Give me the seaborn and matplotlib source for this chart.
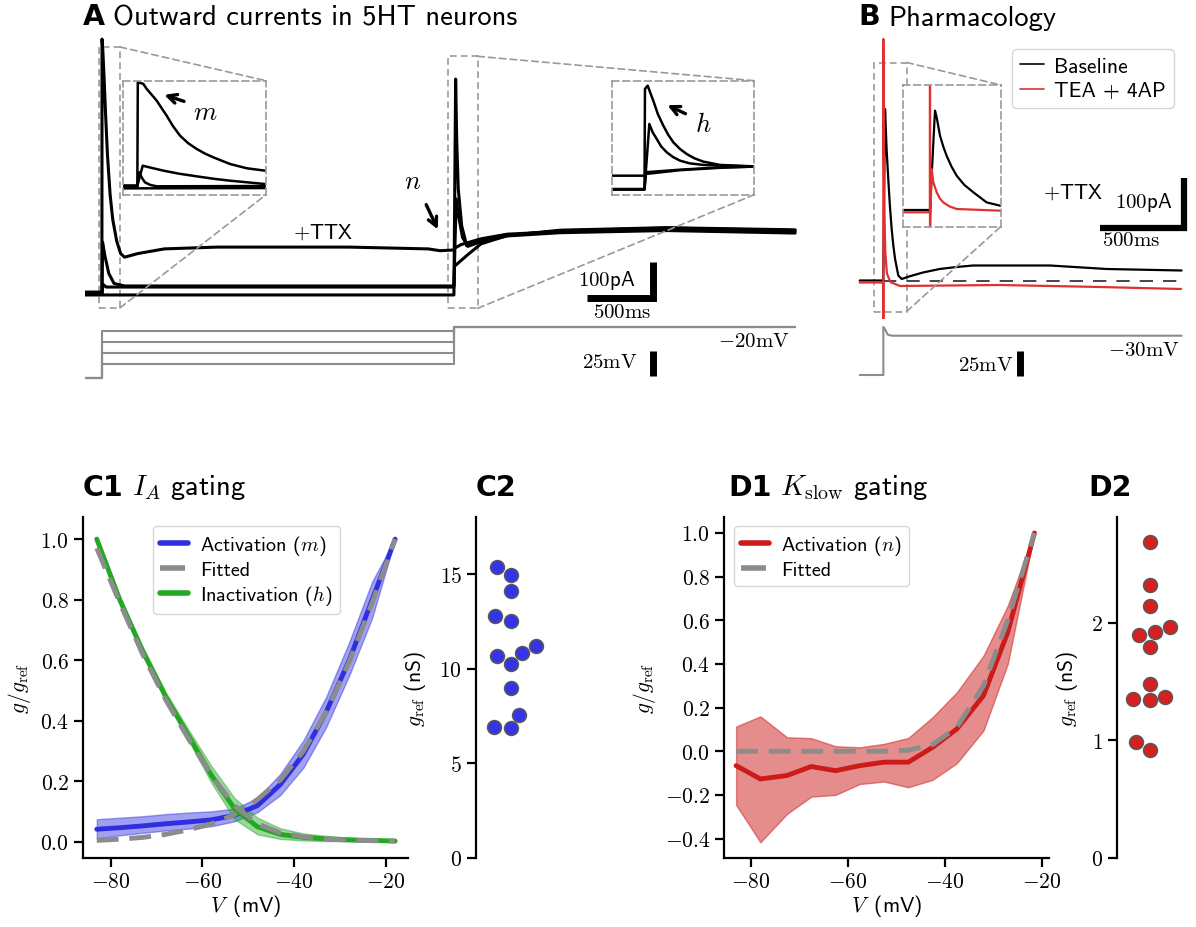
import numpy as np
import pandas as pd
import matplotlib
matplotlib.use("Agg")
import matplotlib.pyplot as plt
import seaborn as sns
from matplotlib.patches import Rectangle, ConnectionPatch
from matplotlib.text import Annotation
from matplotlib.ticker import FuncFormatter
from matplotlib.lines import Line2D

# ---------------- data ----------------
# Panel A: voltage protocol (mV) and current traces (ms, pA)
A_step_t = [0, 130, 130, 2795, 2795, 5380]
A_hold = -71.0
A_cond_levels = [-23.4, -34.4, -45.4, -56.7]
A_test = -20.0

A_t1 = [0, 128, 129, 135, 145, 155, 170, 190, 210, 240, 270, 300, 400, 600, 1000, 2000, 2600, 2690, 2795, 2800, 2850, 3000, 3200, 3600, 4400, 5380]
A_i1 = [8, 8, 711, 680, 600, 510, 390, 280, 210, 150, 115, 105, 115, 128, 133, 133, 128, 123, 125, 130, 140, 156, 169, 176, 183, 176]
A_t2 = [0, 129, 133, 150, 180, 220, 300, 2795, 2800, 2900, 3000, 3200, 3600, 4400, 5380]
A_i2 = [6, 6, 147, 110, 60, 32, 25, 25, 80, 112, 142, 165, 180, 187, 181]
A_t3 = [0, 129, 135, 160, 2795, 2812, 2830, 2860, 2900, 3000, 3200, 3600, 4400, 5380]
A_i3 = [3, 3, 30, 22, 22, 267, 220, 160, 135, 148, 164, 173, 179, 172]
A_t4 = [0, 2795, 2808, 2816, 2828, 2854, 2892, 3000, 3200, 3600, 4400, 5380]
A_i4 = [0, 0, 600, 433, 294, 192, 137, 152, 166, 178, 186, 179]

# inset m (time from step, ms; pA)
M_t = [[-31, -2, -1, 10.5, 17.7, 28, 38.7, 49, 59.7, 73, 87.7, 105, 122.8, 140, 157.7, 192.8, 227.9, 266],
       [-31, -2, 9.3, 30, 52.6, 85, 122.8, 160, 192.8, 266],
       [-31, -2, 2.1, 8, 14, 25, 38.7, 266],
       [-31, 266]]
M_i = [[37, 37, 690, 680, 648, 612, 574, 527, 479, 413, 353, 305, 269, 240, 216, 174, 147, 132],
       [37, 37, 163, 148, 132, 113, 96, 80, 68.5, 47.6],
       [30, 30, 122, 85, 58, 42, 33, 35],
       [20, 22]]
# inset h
H_t = [[-69, 0, 1, 6.7, 12, 18.5, 28, 39.6, 50, 60.6, 75, 88.8, 105, 123.7, 158.9, 231],
       [-69, 0, 10.2, 17, 25.7, 35, 46.7, 60, 74.7, 95, 123.7, 231],
       [-69, 0, 3, 75, 160, 231],
       [-69, 0, 3, 75, 160, 231]]
H_i = [[16, 16, 648, 669, 625, 574, 490, 416, 358, 311, 268, 237, 210, 189, 168, 159],
       [12, 12, 427, 375, 332, 285, 248, 218, 195, 178, 168, 157],
       [100, 100, 122, 138, 153, 157],
       [14, 14, 111, 135, 150, 158]]

# Panel B
B_tb = [10, 149, 150, 159, 168, 178, 188, 198, 208, 218, 237, 257, 300, 382, 480, 580, 676, 1129, 1462, 1903]
B_ib = [1, 1, 60, 344, 265, 204, 148, 104, 70, 44, 11, 4, 9, 17, 24, 28, 31, 31, 24, 21]
B_tr = [10, 149, 149, 149, 151, 155, 160, 170, 190, 247, 835, 1423, 1900]
B_ir = [-3, -3, -76, 484, 300, 150, 60, 15, -2, -10, -8, -12, -16]
B_tv = [10, 149, 149, 156, 175, 200, 1903]
B_v = [-69.3, -69.3, -21.3, -22.5, -29, -30, -30]
Bin_tb = [-56, 0, 3, 10.2, 13.7, 20.4, 27, 34, 44, 54.5, 70, 88.4, 115.7, 144]
Bin_ib = [29.5, 29.5, 120, 324, 304, 250, 218, 190, 158, 131, 104, 82, 52, 42]
Bin_tr = [-56, 0, 0, 0, 3.4, 6.8, 13.7, 20, 27.2, 40, 54.5, 144]
Bin_ir = [22.7, 22.7, 450, -40, 151, 111.6, 82, 64, 52, 40, 32.5, 27.4]

# Panel C1
V_A = [-83, -78, -73, -68, -63, -58, -53, -48, -43, -38, -33, -28, -23, -18]
m_mean = [0.042, 0.047, 0.053, 0.060, 0.066, 0.073, 0.088, 0.12, 0.19, 0.29, 0.43, 0.60, 0.80, 1.0]
m_lo = [0.012, 0.022, 0.030, 0.038, 0.044, 0.052, 0.068, 0.098, 0.155, 0.245, 0.38, 0.55, 0.74, 1.0]
m_hi = [0.075, 0.080, 0.085, 0.092, 0.097, 0.101, 0.110, 0.145, 0.225, 0.335, 0.48, 0.66, 0.86, 1.0]
m_fit = [0.005, 0.009, 0.015, 0.025, 0.04, 0.06, 0.09, 0.14, 0.205, 0.30, 0.43, 0.595, 0.79, 1.0]
h_mean = [1.0, 0.80, 0.63, 0.48, 0.35, 0.22, 0.11, 0.05, 0.025, 0.015, 0.01, 0.007, 0.005, 0.003]
h_lo = [1.0, 0.79, 0.62, 0.47, 0.335, 0.195, 0.075, 0.025, 0.01, 0.005, 0.003, 0.002, 0.001, 0.0]
h_hi = [1.0, 0.81, 0.645, 0.495, 0.37, 0.25, 0.145, 0.08, 0.045, 0.028, 0.02, 0.014, 0.01, 0.006]
h_fit = [0.97, 0.79, 0.62, 0.47, 0.34, 0.22, 0.12, 0.06, 0.03, 0.017, 0.01, 0.006, 0.004, 0.003]

# Panel C2
gref_A = [15.35, 14.94, 14.11, 12.79, 12.50, 11.19, 10.68, 10.84, 10.26, 8.96, 7.55, 6.93, 6.86]

# Panel D1
V_K = [-83, -78, -72.5, -67.5, -62.5, -57.5, -52.5, -47.5, -42.5, -37.5, -32, -27, -21.5]
n_mean = [-0.066, -0.127, -0.111, -0.07, -0.089, -0.066, -0.05, -0.05, 0.018, 0.102, 0.255, 0.545, 1.0]
n_hi = [0.113, 0.16, 0.064, 0.06, 0.023, 0.018, 0.034, 0.061, 0.156, 0.27, 0.438, 0.667, 1.0]
n_lo = [-0.246, -0.417, -0.287, -0.208, -0.2, -0.15, -0.139, -0.165, -0.131, -0.055, 0.095, 0.40, 1.0]
n_fit = [0, 0, 0, 0, 0, 0, 0, 0.005, 0.03, 0.11, 0.30, 0.60, 1.0]

# Panel D2
gref_K = [2.687, 2.32, 2.144, 1.965, 1.895, 1.923, 1.795, 1.478, 1.351, 1.34, 1.368, 0.983, 0.915]

# ---------------- style ----------------
sns.set_theme(style="ticks")
plt.rcParams.update({
    "font.family": ["cmss10", "DejaVu Sans"],
    "mathtext.fontset": "cm",
    "axes.unicode_minus": True,
    "axes.linewidth": 1.6,
    "axes.edgecolor": "black",
    "xtick.color": "black", "ytick.color": "black",
    "text.color": "black", "axes.labelcolor": "black",
    "xtick.major.width": 1.6, "ytick.major.width": 1.6,
    "xtick.major.size": 6.5, "ytick.major.size": 6.5,
    "xtick.labelsize": 15.5, "ytick.labelsize": 15.5,
    "axes.labelsize": 15.5, "legend.fontsize": 14.5,
})

BLUE = "#2f2fe0"
GREEN = "#22a822"
RED = "#cc1b1b"
GRAY = "0.55"
DASHC = "0.6"

W, H = 1196, 928
fig = plt.figure(figsize=(W / 100, H / 100), dpi=100)


def px_axes(l, t, r, b):
    return fig.add_axes([l / W, 1 - b / H, (r - l) / W, (b - t) / H])


def mathfmt(fmt):
    return FuncFormatter(lambda v, p: "$" + (fmt % (v + 0.0)) + "$")


def dashed_box(ax):
    ax.set_xticks([])
    ax.set_yticks([])
    for s in ax.spines.values():
        s.set_visible(True)
        s.set_linestyle((0, (4, 2.5)))
        s.set_edgecolor(DASHC)
        s.set_linewidth(1.2)
    ax.patch.set_alpha(0)


def zoom_marks(ax, inset, t0, t1, i0, i1):
    ax.add_patch(Rectangle((t0, i0), t1 - t0, i1 - i0, fill=False, ls=(0, (4, 2.5)),
                           ec=DASHC, lw=1.2, clip_on=False, zorder=1))
    for yd, yf in ((i1, 1), (i0, 0)):
        cp = ConnectionPatch(xyA=(t1, yd), coordsA=ax.transData, xyB=(1, yf),
                             coordsB=inset.transAxes, ls=(0, (4, 2.5)), color=DASHC, lw=1.2)
        fig.add_artist(cp)


def panel_title(x, y, label, rest=None, size=20, rsize=20):
    t = fig.text(x / W, 1 - y / H, label, fontsize=size, fontweight="bold",
                 family="DejaVu Sans", ha="left", va="baseline")
    if rest:
        fig.add_artist(Annotation(rest, xy=(1, 0), xycoords=t, xytext=(6, 0),
                                  textcoords="offset points", ha="left", va="bottom",
                                  fontsize=rsize))


arrow_kw = dict(arrowstyle="->", lw=2.4, color="black", mutation_scale=16)

# ---------------- Panel A ----------------
axA = px_axes(85, 30, 800, 310)
axA.axis("off")
axA.set_xlim(0, 5417)
axA.set_ylim(-39, 739)
for t, i in ((A_t4, A_i4), (A_t3, A_i3), (A_t2, A_i2), (A_t1, A_i1)):
    axA.plot(t, i, color="black", lw=2.2, solid_joinstyle="round")
# scale bars
axA.plot([3800, 4300, 4300], [-8, -8, 92], color="black", lw=5, solid_capstyle="butt",
         solid_joinstyle="miter", clip_on=False)
axA.text(4167, 42, r"$100$pA", ha="right", va="center", fontsize=15)
axA.text(4068, -46, r"$500\mathrm{ms}$", ha="center", va="center", fontsize=15)
axA.text(1803, 176, r"$+$TTX", ha="center", va="center", fontsize=15)
axA.text(2485, 314, r"$n$", ha="center", va="center", fontsize=19)
axA.annotate("", xy=(2682, 175), xytext=(2576, 258), arrowprops=arrow_kw)

axAv = px_axes(85, 315, 800, 390)
axAv.axis("off")
axAv.set_xlim(0, 5417)
axAv.set_ylim(-81.7, -6.7)
for lev in A_cond_levels:
    axAv.plot(A_step_t, [A_hold, A_hold, lev, lev, A_test, A_test], color=GRAY, lw=1.5)
axAv.text(5341, -33.4, r"$-20\mathrm{mV}$", ha="right", va="center", fontsize=15)
axAv.text(4182, -54.7, r"$25\mathrm{mV}$", ha="right", va="center", fontsize=15)
axAv.plot([4301, 4301], [-43.7, -68.7], color="black", lw=5, solid_capstyle="butt")

# inset m
axM = px_axes(123.3, 81.7, 266, 195.7)
axM.set_xlim(-31.5, 268.5)
axM.set_ylim(-20, 700)
for t, i in zip(M_t, M_i):
    axM.plot(t, i, color="black", lw=1.8)
dashed_box(axM)
axM.text(140, 496, r"$m$", ha="center", va="center", fontsize=19)
axM.annotate("", xy=(49, 616), xytext=(101.8, 564), arrowprops=arrow_kw)
zoom_marks(axA, axM, 106, 265, -36, 689)

# inset h
axHh = px_axes(611.7, 81.7, 754.3, 195.7)
axHh.set_xlim(-69, 231)
axHh.set_ylim(-20, 700)
for t, i in zip(H_t, H_i):
    axHh.plot(t, i, color="black", lw=1.8)
dashed_box(axHh)
axHh.text(123, 427, r"$h$", ha="center", va="center", fontsize=19)
axHh.annotate("", xy=(43, 553), xytext=(91.5, 484), arrowprops=arrow_kw)
zoom_marks(axA, axHh, 2748, 2975, -37, 663)

# ---------------- Panel B ----------------
axB = px_axes(858, 30, 1185, 320)
axB.axis("off")
axB.set_xlim(0, 1923)
axB.set_ylim(-76, 504)
axB.plot([149, 1903], [0, 0], color="0.15", lw=1.2, dashes=(8, 6))
axB.plot(B_tb, B_ib, color="black", lw=1.6)
axB.plot(B_tr, B_ir, color="#e03030", lw=1.6)
axB.plot([1423, 1915, 1915], [106, 106, 206], color="black", lw=4.5, solid_capstyle="butt",
         solid_joinstyle="miter", clip_on=False)
axB.text(1846, 158, r"$100$pA", ha="right", va="center", fontsize=15)
axB.text(1605, 82, r"$500\mathrm{ms}$", ha="center", va="center", fontsize=15)
axB.text(1264, 178, r"$+$TTX", ha="center", va="center", fontsize=15)
legB = axB.legend(handles=[Line2D([], [], color="black", lw=1.2),
                           Line2D([], [], color="#e03030", lw=1.2)],
                  labels=["Baseline", "TEA + 4AP"], loc="upper right",
                  bbox_to_anchor=(0.965, 0.93), borderaxespad=0, fontsize=15.5,
                  handlelength=1.1, handletextpad=0.5, labelspacing=0.25,
                  borderpad=0.35, frameon=True, fancybox=True)
legB.get_frame().set_edgecolor("0.8")

axBv = px_axes(858, 320, 1185, 385)
axBv.axis("off")
axBv.set_xlim(0, 1923)
axBv.set_ylim(-78.3, -13.3)
axBv.plot(B_tv, B_v, color=GRAY, lw=1.5)
axBv.text(1893, -43.3, r"$-30\mathrm{mV}$", ha="right", va="center", fontsize=15)
axBv.text(911, -59.3, r"$25\mathrm{mV}$", ha="right", va="center", fontsize=15)
axBv.plot([953, 953], [-45.3, -70.3], color="black", lw=5, solid_capstyle="butt")

axBi = px_axes(902.7, 86, 1000.7, 227.7)
axBi.set_xlim(-55.7, 144.3)
axBi.set_ylim(-20, 400)
axBi.plot(Bin_tb, Bin_ib, color="black", lw=1.6)
axBi.plot(Bin_tr, Bin_ir, color="#e03030", lw=1.6)
dashed_box(axBi)
axBi.patch.set_alpha(1)
axBi.patch.set_facecolor("white")
zoom_marks(axB, axBi, 96, 286, -61, 437)

# ---------------- Panel C1 ----------------
leg_kw = dict(loc="upper left", borderaxespad=0, handlelength=1.4, handletextpad=0.6,
              labelspacing=0.2, borderpad=0.35, frameon=True, fancybox=True)

axC1 = px_axes(83, 518, 408, 859)
axC1.fill_between(V_A, m_lo, m_hi, color=BLUE, alpha=0.45, lw=1)
sns.lineplot(x=V_A, y=m_mean, ax=axC1, color=BLUE, lw=3.5)
axC1.plot(V_A, m_fit, color="0.55", lw=3.5, dashes=(4.5, 2.2))
axC1.fill_between(V_A, h_lo, h_hi, color=GREEN, alpha=0.45, lw=1)
sns.lineplot(x=V_A, y=h_mean, ax=axC1, color=GREEN, lw=3.5)
axC1.plot(V_A, h_fit, color="0.55", lw=3.5, dashes=(4.5, 2.2))
axC1.set_xlim(-86, -15.2)
axC1.set_ylim(-0.053, 1.073)
axC1.set_xticks([-80, -60, -40, -20])
axC1.set_yticks([0, 0.2, 0.4, 0.6, 0.8, 1.0])
axC1.xaxis.set_major_formatter(mathfmt("%d"))
axC1.yaxis.set_major_formatter(mathfmt("%.1f"))
axC1.set_xlabel(r"$V\,$ (mV)", labelpad=1)
axC1.set_ylabel(r"$g/g_\mathrm{ref}$", labelpad=5)
legC = axC1.legend(handles=[Line2D([], [], color=BLUE, lw=4),
                            Line2D([], [], color="0.55", lw=4, dashes=(4.5, 2.2)),
                            Line2D([], [], color=GREEN, lw=4)],
                   labels=[r"Activation ($m$)", "Fitted", r"Inactivation ($h$)"],
                   bbox_to_anchor=(0.215, 0.975), **leg_kw)
legC.get_frame().set_edgecolor("0.8")
sns.despine(ax=axC1)

# ---------------- Panel C2 ----------------
axC2 = px_axes(476, 518, 545, 859)
sns.swarmplot(y=gref_A, ax=axC2, color="#3434e6", size=10, edgecolor="0.35", linewidth=1.1)
axC2.set_xlim(-0.5, 0.5)
axC2.set_ylim(0, 18)
axC2.set_yticks([0, 5, 10, 15])
axC2.yaxis.set_major_formatter(mathfmt("%d"))
axC2.set_xticks([])
axC2.set_ylabel(r"$g_\mathrm{ref}$ (nS)", labelpad=8)
sns.despine(ax=axC2, bottom=True)

# ---------------- Panel D1 ----------------
axD1 = px_axes(724, 518, 1049, 859)
axD1.fill_between(V_K, n_lo, n_hi, color=RED, alpha=0.5, lw=1)
sns.lineplot(x=V_K, y=n_mean, ax=axD1, color=RED, lw=3.5)
axD1.plot(V_K, n_fit, color="0.55", lw=3.5, dashes=(4.5, 2.2))
axD1.set_xlim(-85.5, -18.5)
axD1.set_ylim(-0.489, 1.073)
axD1.set_xticks([-80, -60, -40, -20])
axD1.set_yticks([-0.4, -0.2, 0, 0.2, 0.4, 0.6, 0.8, 1.0])
axD1.xaxis.set_major_formatter(mathfmt("%d"))
axD1.yaxis.set_major_formatter(mathfmt("%.1f"))
axD1.set_xlabel(r"$V\,$ (mV)", labelpad=1)
axD1.set_ylabel(r"$g/g_\mathrm{ref}$", labelpad=5)
legD = axD1.legend(handles=[Line2D([], [], color=RED, lw=4),
                            Line2D([], [], color="0.55", lw=4, dashes=(4.5, 2.2))],
                   labels=[r"Activation ($n$)", "Fitted"],
                   bbox_to_anchor=(0.03, 0.975), **leg_kw)
legD.get_frame().set_edgecolor("0.8")
sns.despine(ax=axD1)

# ---------------- Panel D2 ----------------
axD2 = px_axes(1117, 518, 1182, 859)
sns.swarmplot(y=gref_K, ax=axD2, color="#d42020", size=10, edgecolor="0.35", linewidth=1.1)
axD2.set_xlim(-0.5, 0.5)
axD2.set_ylim(0, 2.9)
axD2.set_yticks([0, 1, 2])
axD2.yaxis.set_major_formatter(mathfmt("%d"))
axD2.set_xticks([])
axD2.set_ylabel(r"$g_\mathrm{ref}$ (nS)", labelpad=8)
sns.despine(ax=axD2, bottom=True)

# ---------------- titles ----------------
panel_title(83, 25, "A", "Outward currents in 5HT neurons", size=20.5, rsize=20.5)
panel_title(858, 25, "B", "Pharmacology", size=20.5, rsize=20.5)
panel_title(83, 496, "C1", r"$I_A$ gating", size=20.5, rsize=20.5)
panel_title(476, 496, "C2", size=20.5)
panel_title(728, 496, "D1", r"$K_\mathrm{slow}$ gating", size=20.5, rsize=20.5)
panel_title(1088, 496, "D2", size=20.5)

fig.savefig("out.png", dpi=100)
